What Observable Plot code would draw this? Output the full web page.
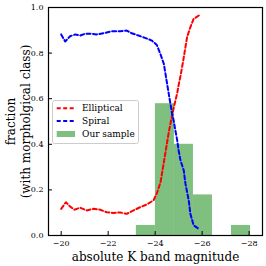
<!DOCTYPE html>
<html><head><meta charset="utf-8">
<script src="https://cdn.jsdelivr.net/npm/d3@7"></script>
<script src="https://cdn.jsdelivr.net/npm/@observablehq/plot@0.6"></script>
<style>
body{margin:0;background:#fff;}
#chart{position:relative;width:266px;height:266px;font-family:"DejaVu Serif",serif;}
#legend{position:absolute;left:52px;top:100px;}
</style></head><body><div id="chart"></div>
<script>
const xTicks = [-20, -22, -24, -26, -28];
const yTicks = [0, 0.2, 0.4, 0.6, 0.8, 1.0];

const seriesNames = ["Elliptical", "Spiral", "Our sample"];
const seriesColors = ["#ff0000", "#0000ff", "#7fbf7f"];

const ellMag = [-20, -20.2, -20.38, -20.56, -20.81, -21.09, -21.37, -21.66, -21.94, -22.22, -22.51, -22.79, -23.08, -23.36, -23.64, -23.93, -24.09, -24.23, -24.30, -24.37, -24.44, -24.51, -24.58, -24.65, -24.72, -24.79, -24.86, -24.94, -25.0, -25.08, -25.15, -25.22, -25.29, -25.36, -25.5, -25.64, -25.86];
const ellFrac = [0.117, 0.146, 0.127, 0.113, 0.122, 0.110, 0.117, 0.113, 0.102, 0.099, 0.101, 0.095, 0.110, 0.124, 0.136, 0.154, 0.19, 0.234, 0.278, 0.321, 0.365, 0.409, 0.453, 0.49, 0.525, 0.56, 0.59, 0.625, 0.66, 0.70, 0.74, 0.782, 0.826, 0.870, 0.914, 0.950, 0.965];

const spiMag = [-20, -20.17, -20.38, -20.6, -20.81, -21.02, -21.3, -21.51, -21.8, -22.15, -22.51, -22.79, -23.0, -23.29, -23.57, -23.86, -24.07, -24.22, -24.37, -24.44, -24.51, -24.58, -24.65, -24.72, -24.79, -24.86, -24.94, -25.0, -25.08, -25.22, -25.29, -25.43, -25.5, -25.64, -25.86];
const spiFrac = [0.882, 0.851, 0.874, 0.882, 0.877, 0.885, 0.885, 0.882, 0.887, 0.896, 0.896, 0.899, 0.887, 0.877, 0.867, 0.855, 0.836, 0.797, 0.753, 0.709, 0.665, 0.621, 0.578, 0.534, 0.504, 0.461, 0.417, 0.373, 0.329, 0.285, 0.227, 0.154, 0.095, 0.044, 0.029];

const binLo = [-23.2, -24.01, -24.82, -25.63, -26.44, -27.25];
const binHi = [-24.01, -24.82, -25.63, -26.44, -27.25, -28.06];
const binFrac = [0.044, 0.578, 0.400, 0.178, 0, 0.044];

const xLabel = "absolute K band magnitude";
const yLabel = "fraction\n(with morpholgical class)";

const ell = ellMag.map((m, i) => ({m, f: ellFrac[i]}));
const spi = spiMag.map((m, i) => ({m, f: spiFrac[i]}));
const bins = binLo.map((lo, i) => ({lo, hi: binHi[i], f: binFrac[i]})).filter(d => d.f > 0);

const W = 266, H = 266;
const mL = 48, mT = 7, mR = 4, mB = 31;
const plotW = W - mL - mR, plotH = H - mT - mB;
const tickLen = 4;

const plot = Plot.plot({
  width: W, height: H,
  marginLeft: mL, marginTop: mT, marginRight: mR, marginBottom: mB,
  style: {fontFamily: "DejaVu Serif, serif", background: "#fff", overflow: "visible"},
  x: {domain: [-19.46, -28.57]},
  y: {domain: [0, 1]},
  marks: [
    Plot.rectY(bins, {x1: "lo", x2: "hi", y1: 0, y2: "f", fill: seriesColors[2]}),
    Plot.line(ell, {x: "m", y: "f", stroke: seriesColors[0], strokeWidth: 2, strokeDasharray: "4,2.5"}),
    Plot.line(spi, {x: "m", y: "f", stroke: seriesColors[1], strokeWidth: 2, strokeDasharray: "4,2.5"}),
    Plot.tickX(xTicks, {x: d => d, stroke: "#000", strokeWidth: 1, insetTop: plotH - tickLen}),
    Plot.tickY(yTicks, {y: d => d, stroke: "#000", strokeWidth: 1, insetRight: plotW - tickLen}),
    Plot.axisX(xTicks, {tickSize: 0, tickPadding: 5, fontSize: 8, label: null, fill: "#000"}),
    Plot.axisY(yTicks, {tickSize: 0, tickPadding: 5, fontSize: 8, label: null, tickFormat: d3.format(".1f"), fill: "#000"}),
    Plot.frame({stroke: "#000", strokeWidth: 1.2}),
    Plot.text([xLabel], {text: d => d, frameAnchor: "bottom", dy: 22, fontSize: 12, lineAnchor: "middle", textAnchor: "middle", fill: "#000"}),
    Plot.text([yLabel], {text: d => d, frameAnchor: "left", dx: -30.5, rotate: -90, fontSize: 12, lineHeight: 1.25, lineAnchor: "middle", textAnchor: "middle", fill: "#000"})
  ]
});
const chart = document.getElementById("chart");
chart.appendChild(plot);

// legend
const lg = d3.select(chart).append("svg").attr("id", "legend")
  .attr("width", 88).attr("height", 45);
lg.append("rect").attr("x", 0.5).attr("y", 0.5).attr("width", 86).attr("height", 43)
  .attr("rx", 2).attr("fill", "#fff").attr("fill-opacity", 0.8).attr("stroke", "#cccccc").attr("stroke-width", 1);
const rowY = [8.3, 21, 34];
seriesNames.forEach((name, i) => {
  const y = rowY[i];
  if (i < 2) {
    lg.append("line").attr("x1", 4.7).attr("x2", 23).attr("y1", y).attr("y2", y)
      .attr("stroke", seriesColors[i]).attr("stroke-width", 2).attr("stroke-dasharray", "4,2.5");
  } else {
    lg.append("rect").attr("x", 4.7).attr("y", y - 3).attr("width", 18.3).attr("height", 6)
      .attr("fill", seriesColors[i]);
  }
  lg.append("text").attr("x", 30).attr("y", y).attr("dominant-baseline", "central")
    .attr("font-size", 9).attr("font-family", "DejaVu Serif, serif").attr("fill", "#000").text(name);
});
</script></body></html>
